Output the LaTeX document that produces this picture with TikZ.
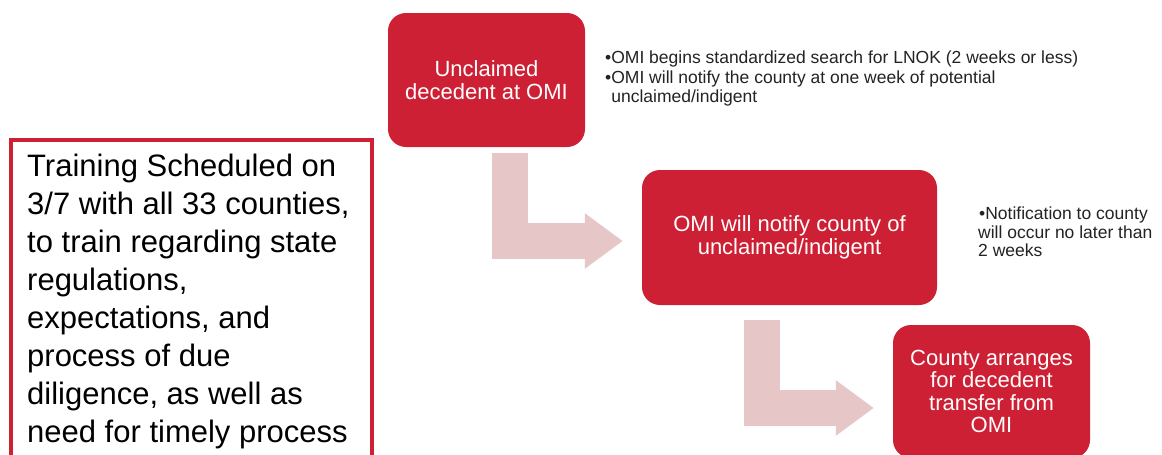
\documentclass[tikz,border=0pt]{standalone}
\usepackage{fontspec}
\setmainfont{Liberation Sans}
\usetikzlibrary{arrows.meta}
\definecolor{omired}{RGB}{206,32,52}
\definecolor{arrowpink}{RGB}{231,198,200}
\definecolor{notegray}{RGB}{35,35,35}
\def\boxfont{\fontsize{22}{22.5}\selectfont}
\def\notefont{\fontsize{17.5}{18.5}\selectfont}
\def\trainfont{\fontsize{31}{38}\selectfont}

\tikzset{
  stepbox/.style={fill=omired, text=white, rounded corners=18pt, align=center, inner sep=0pt, font=\boxfont},
  note/.style={anchor=north west, align=left, inner sep=0pt, text=notegray, font=\notefont},
  bentarrow/.style={draw=arrowpink, line width=36pt, line join=miter, -{Triangle[length=38pt,width=53pt]}},
}

\begin{document}
\begin{tikzpicture}[x=1pt,y=-1pt]

% page frame
\useasboundingbox (0,0) rectangle (1162,455);
\clip (0,0) rectangle (1162,455);
\fill[white] (0,0) rectangle (1162,455);

% Steps
\node[stepbox, minimum width=197pt, minimum height=134pt] (unclaimed) at (486.5,80) {Unclaimed\\decedent at OMI};
\node[stepbox, minimum width=295pt, minimum height=135pt] (notify) at (789.5,237.5) {OMI will notify county of\\unclaimed/indigent};
\node[stepbox, minimum width=197pt, minimum height=133pt] (transfer) at (991.5,391.5) {County arranges\\for decedent\\transfer from\\OMI};

% Bent arrows between the steps
\draw[bentarrow] ([xshift=23.5pt,yshift=-6pt]unclaimed.south) |- ([xshift=-19pt,yshift=-3.5pt]notify.west); % first step to second
\draw[bentarrow] ([xshift=-28pt,yshift=-15pt]notify.south) |- ([xshift=-19pt,yshift=-16.5pt]transfer.west); % second step to third

% Notes beside the steps
\node[note] (searchnote) at (605,51) {\textbullet OMI begins standardized search for LNOK (2 weeks or less)\\[1.5pt]\textbullet OMI will notify the county at one week of potential\\\phantom{\textbullet}unclaimed/indigent};
\node[note] (countynote) at (978,207) {\hspace*{1pt}\textbullet Notification to county\\will occur no later than\\2 weeks};

% Training box
\draw[omired, line width=4pt] (10.5,139.5) rectangle (371.5,480); % border, runs off the page
\node[anchor=north west, align=left, inner sep=0pt, font=\trainfont] (training) at (27,154) {Training Scheduled on\\3/7 with all 33 counties,\\to train regarding state\\regulations,\\expectations, and\\process of due\\diligence, as well as\\need for timely process};

\end{tikzpicture}
\end{document}
